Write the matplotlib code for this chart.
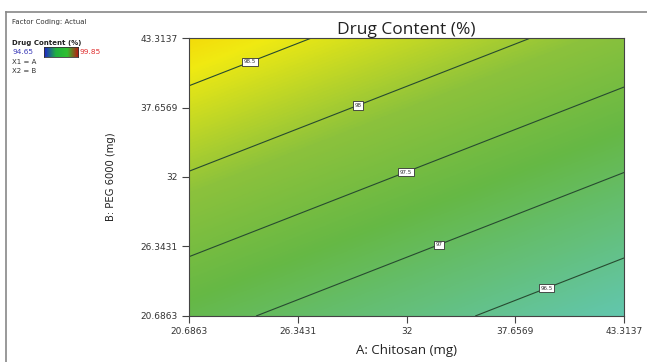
import numpy as np
import matplotlib
matplotlib.use("Agg")
import matplotlib.pyplot as plt
from matplotlib.colors import LinearSegmentedColormap
from matplotlib.lines import Line2D

# Factor ranges (actual units) and tick labels
a_range = [20.6863, 43.3137]
b_range = [20.6863, 43.3137]
tick_values = [20.6863, 26.3431, 32.0, 37.6569, 43.3137]
tick_labels = ["20.6863", "26.3431", "32", "37.6569", "43.3137"]

# Linear response model in coded units: Y = b0 + bA*A + bB*B
center = 32.0
half_range = 8.0
b0 = 97.47
bA = -0.351
bB = 0.575

# Response colour scale limits
y_min, y_max = 94.65, 99.85
contour_levels = [96.5, 97.0, 97.5, 98.0, 98.5]
label_positions = [(39.2, 23.3), (33.6, 26.8), (31.9, 32.7), (29.4, 38.1), (23.81, 41.6)]

cmap = LinearSegmentedColormap.from_list(
    "de",
    [(0.0, "#1c2fd6"), (0.27, "#62c8b8"), (0.5, "#66b845"),
     (0.62, "#8cc23c"), (0.76, "#f0ea12"), (0.84, "#f8c800"), (1.0, "#e01010")])

A = np.linspace(*a_range, 300)
B = np.linspace(*b_range, 300)
AA, BB = np.meshgrid(A, B)
Z = b0 + bA * (AA - center) / half_range + bB * (BB - center) / half_range

fig = plt.figure(figsize=(6.47, 3.62), dpi=100)
ax = fig.add_axes([0.2921, 0.1271, 0.6724, 0.7679])
ax.imshow(Z, origin="lower", extent=[*a_range, *b_range], aspect="auto",
          cmap=cmap, vmin=y_min, vmax=y_max, interpolation="bilinear")
cs = ax.contour(AA, BB, Z, levels=contour_levels, colors="#274a30", linewidths=0.8)
labels = ax.clabel(cs, fmt=lambda v: f"{v:g}", fontsize=4, inline=True,
                   inline_spacing=1, manual=label_positions)
for t in labels:
    t.set_rotation(0)
    t.set_bbox(dict(boxstyle="square,pad=0.3", fc="white", ec="#333333", lw=0.6))
    t.set_color("#333333")

ax.set_xlim(*a_range)
ax.set_ylim(*b_range)
ax.set_xticks(tick_values)
ax.set_xticklabels(tick_labels)
ax.set_yticks(tick_values)
ax.set_yticklabels(tick_labels)
ax.tick_params(direction="out", length=5, width=0.8, colors="#444444",
               labelsize=6.5, labelcolor="#333333", pad=3)
for s in ax.spines.values():
    s.set_color("#444444")
    s.set_linewidth(0.8)

ax.set_title("Drug Content (%)", fontsize=12.5, color="#222222", pad=3,
             family="Open Sans")
ax.set_xlabel("A: Chitosan (mg)", fontsize=9.5, color="#222222", labelpad=6,
              family="Open Sans")
ax.set_ylabel("B: PEG 6000 (mg)", fontsize=8, color="#222222", labelpad=18,
              family="DejaVu Sans", stretch="condensed")

# Outer frame
fig.add_artist(Line2D([0.0093, 1.0], [0.967, 0.967], transform=fig.transFigure,
                      color="#888888", lw=1.2))
fig.add_artist(Line2D([0.0093, 0.0093], [0.0, 0.967], transform=fig.transFigure,
                      color="#888888", lw=1.2))

# Legend block
fs = 5.0
fig.text(0.019, 0.938, "Factor Coding: Actual", fontsize=fs, color="#333333",
         va="center")
fig.text(0.019, 0.881, "Drug Content (%)", fontsize=fs, color="#222222",
         weight="bold", va="center")
fig.text(0.019, 0.856, f"{y_min:.2f}", fontsize=fs + 0.3, color="#3b3bb8", va="center")
cax = fig.add_axes([0.068, 0.842, 0.053, 0.028])
cax.imshow(np.linspace(y_min, y_max, 200)[None, :], aspect="auto", cmap=LinearSegmentedColormap.from_list(
    "bar", ["#2020d0", "#20b040", "#30c030", "#c01010"]), vmin=y_min, vmax=y_max)
cax.set_xticks([])
cax.set_yticks([])
for s in cax.spines.values():
    s.set_color("#333333")
    s.set_linewidth(0.6)
fig.text(0.123, 0.856, f"{y_max:.2f}", fontsize=fs + 0.3, color="#e03030", va="center")
fig.text(0.019, 0.829, "X1 = A", fontsize=fs, color="#333333", va="center")
fig.text(0.019, 0.804, "X2 = B", fontsize=fs, color="#333333", va="center")

fig.savefig("out.png", dpi=100)
